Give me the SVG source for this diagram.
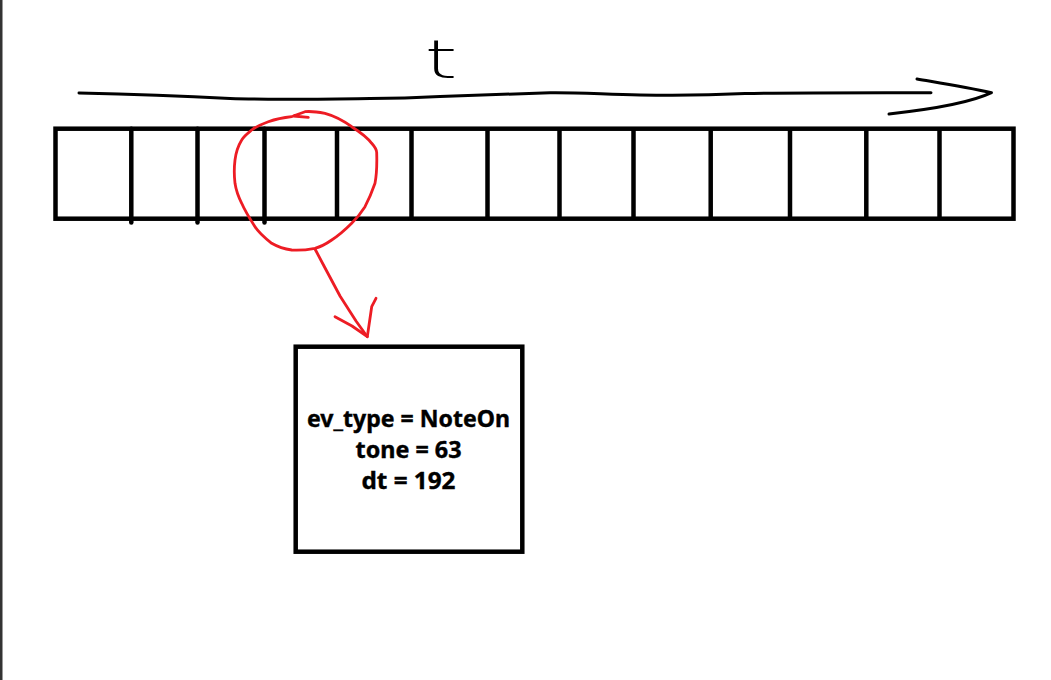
<svg xmlns="http://www.w3.org/2000/svg" width="1051" height="680" viewBox="0 0 1051 680">
<style>
.ink{fill:none;stroke:#000;stroke-linecap:round;stroke-linejoin:round}
.grid{fill:none;stroke:#000;stroke-width:4.5}
.div{stroke:#000;stroke-width:4.5}
.red{fill:none;stroke:#ed1c24;stroke-width:2.8;stroke-linecap:round;stroke-linejoin:round}
.lbl{font-family:"Noto Sans","Liberation Sans",sans-serif;font-weight:bold;font-size:22.5px;fill:#000;stroke:#000;stroke-width:0.4;text-anchor:middle}
</style>
<rect width="1051" height="680" fill="#fff"/>
<rect x="0" y="0" width="2.5" height="680" fill="#333"/>
<g id="time-axis">
<path class="ink" stroke-width="3" d="M79,93 C120,94 180,96 230,98.5 C270,100 330,99 370,98.5 C400,98.3 420,97.5 440,96.5 C480,95 520,93.5 550,92.7 C575,92.3 600,94 640,95 C680,95.8 720,94.8 745,93.6 C790,92.6 860,92.7 931,92.8"/>
<path class="ink" stroke-width="3" d="M917,79 C940,83 965,87 991.5,92.7 C970,103 935,109 889,114"/>
</g>
<g id="label-t">
<text x="441" y="78" font-family="DejaVu Sans, sans-serif" font-weight="200" font-size="54" textLength="33" lengthAdjust="spacingAndGlyphs" text-anchor="middle" fill="#000">t</text>
</g>
<g id="event-array">
<rect class="grid" x="55.5" y="128.7" width="958" height="90"/>
<g class="div">
<line x1="131.3" y1="128.7" x2="131.3" y2="222.5" stroke-linecap="round"/>
<line x1="197.5" y1="128.7" x2="197.5" y2="222.5" stroke-linecap="round"/>
<line x1="264.5" y1="128.7" x2="264.5" y2="222.5" stroke-linecap="round"/>
<line x1="337" y1="128.7" x2="337" y2="218.7"/>
<line x1="411.5" y1="128.7" x2="411.5" y2="218.7"/>
<line x1="487.5" y1="128.7" x2="487.5" y2="218.7"/>
<line x1="559.5" y1="128.7" x2="559.5" y2="218.7"/>
<line x1="633.5" y1="128.7" x2="633.5" y2="218.7"/>
<line x1="710.7" y1="128.7" x2="710.7" y2="218.7"/>
<line x1="790" y1="128.7" x2="790" y2="218.7"/>
<line x1="866.3" y1="128.7" x2="866.3" y2="218.7"/>
<line x1="939.5" y1="128.7" x2="939.5" y2="218.7"/>
</g>
</g>
<g id="highlight-circle">
<path class="red" d="M308.3,117.3 L293.3,116 L305,111.7 C312,111 318,112 325,113.3 C335,116 344,121 351.7,126.7 C360,132 367,137 371.7,143.3 C375,147 377,150 376.7,153.3 C377,163 377,173 375,183.3 C372,192 369,199 365,206.7 C361,213 357,218 351.7,223.3 C345,230 338,236 331.7,240 C326,244 320,247 315,248.3 C306,250 299,250.5 291.7,250 C284,249 278,247 271.7,243.3 C265,238 259,233 255,226.7 C250,219 245,211 241.7,203.3 C238,196 236,190 235,183.3 C234,175 234,168 235,160 C236,152 238,146 241.7,140 C244,136 248,133 251.7,130 C257,126 262,124 268.3,121.7 C276,119 284,117.5 291.7,116.7"/>
</g>
<g id="connectors">
<path class="red" d="M315,249 L324,266 L340,296 L356,321 L367.3,336.7"/>
<path class="red" d="M335,316.7 L352,326 L367.3,336.7 L371.7,306.7 L376,298.3"/>
</g>
<g id="event-box">
<rect class="grid" x="295.7" y="346.7" width="226.6" height="205"/>
<text class="lbl" x="408.5" y="426.5" textLength="203" lengthAdjust="spacingAndGlyphs">ev_type = NoteOn</text>
<text class="lbl" x="408.5" y="458" textLength="106" lengthAdjust="spacingAndGlyphs">tone = 63</text>
<text class="lbl" x="408.5" y="489.3" textLength="94" lengthAdjust="spacingAndGlyphs">dt = 192</text>
</g>
</svg>
